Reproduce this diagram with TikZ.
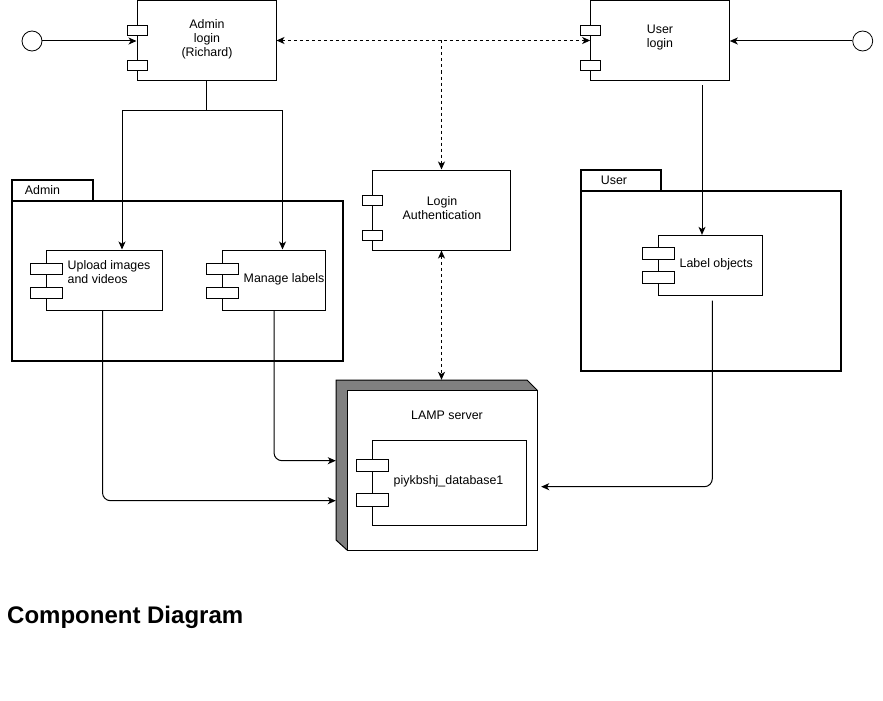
\documentclass[tikz,border=0pt]{standalone}
\usepackage{fontspec}
\setmainfont{Liberation Sans}
\usetikzlibrary{arrows.meta}
\definecolor{sidegray}{HTML}{808080}
\tikzset{
  comp/.style={draw, line width=1pt, fill=white, inner sep=0pt},
  port/.style={draw, line width=1pt, fill=white},
  pkg/.style={draw, line width=2pt},
  txt/.style={font=\fontsize{12.4}{14}\selectfont, align=center, inner sep=0pt},
  ltxt/.style={font=\fontsize{12.4}{14}\selectfont, align=left, inner sep=0pt, anchor=west},
  tip/.tip={Stealth[length=8pt,width=7pt,inset=2.2pt]},
  arr/.style={line width=1pt, -tip},
  dsh/.style={line width=1pt, dash pattern=on 3pt off 3pt},
  iface/.style={draw, circle, minimum size=20pt, inner sep=0pt, line width=0.8pt},
}
\begin{document}
\begin{tikzpicture}[x=1pt,y=-1pt]
\useasboundingbox (0,0) rectangle (883,701);

% ---------- packages ----------
\draw[pkg] (12.3,200.7) rectangle (343.3,360.7);
\draw[pkg] (12.3,200.7) -- (12.3,180) -- (92.7,180) -- (92.7,200.7);
\node[txt] (admintab) at (42.5,190) {Admin};

\draw[pkg] (580.7,190.7) rectangle (840.7,370.7);
\draw[pkg] (580.7,190.7) -- (580.7,170) -- (660.7,170) -- (660.7,190.7);
\node[txt] (usertab) at (614,180) {User};

% ---------- LAMP server node ----------
\draw[line width=1pt, fill=sidegray] (336,380) -- (527,380) -- (537,390) -- (537,550) -- (347,550) -- (336,540) -- cycle;
\draw[line width=1pt, fill=white] (347,390) rectangle (537,550);
\node[inner sep=0pt, minimum width=201pt, minimum height=170pt] (lamp) at (436.5,465) {};
\node[txt] (lamptxt) at (447,415) {LAMP server};

% ---------- components ----------
\node[comp, minimum width=139pt, minimum height=80pt] (adminlogin) at (206.5,40.5) {};
\draw[port] (127.3,25.5) rectangle (147.3,35.5);
\draw[port] (127.3,60.5) rectangle (147.3,70.5);
\node[txt] (adminlogintxt) at (207,39) {Admin\\login\\(Richard)};

\node[comp, minimum width=138.6pt, minimum height=80pt] (userlogin) at (660,40.5) {};
\draw[port] (580.7,25.5) rectangle (600.7,35.5);
\draw[port] (580.7,60.5) rectangle (600.7,70.5);
\node[txt] (userlogintxt) at (660,38) {User\\login};

\node[comp, minimum width=138.4pt, minimum height=80pt] (auth) at (441.5,210) {};
\draw[port] (362.3,195.5) rectangle (382.3,205.5);
\draw[port] (362.3,230.5) rectangle (382.3,240.5);
\node[txt] (authtxt) at (442,208) {Login\\Authentication};

\node[comp, minimum width=115.6pt, minimum height=60pt] (upload) at (104.5,280) {};
\draw[port] (30,263) rectangle (62.3,274);
\draw[port] (30,287) rectangle (62.3,298);
\node[ltxt] (uploadtxt) at (67.5,272) {Upload images\\and videos};

\node[comp, minimum width=103.4pt, minimum height=60pt] (manage) at (274,280) {};
\draw[port] (206,263) rectangle (238.3,274);
\draw[port] (206,287) rectangle (238.3,298);
\node[ltxt] (managetxt) at (243.5,279) {Manage labels};

\node[comp, minimum width=104.4pt, minimum height=59.7pt] (labelobj) at (710.5,265.2) {};
\draw[port] (642.3,247.3) rectangle (674.3,259.3);
\draw[port] (642.3,271.7) rectangle (674.3,283.3);
\node[ltxt] (labelobjtxt) at (679.5,264) {Label objects};

\node[comp, minimum width=154.4pt, minimum height=85pt] (db) at (449.5,482.5) {};
\draw[port] (356,459.3) rectangle (388.3,471);
\draw[port] (356,493.3) rectangle (388.3,506);
\node[ltxt] (dbtxt) at (393.5,481.5) {piykbshj\_database1};

% ---------- interfaces ----------
\node[iface] (lcirc) at (32,41) {};
\node[iface] (rcirc) at (862.7,41) {};
\draw[arr] (lcirc) -- (lcirc -| adminlogin.west);
\draw[arr] (rcirc) -- (rcirc -| userlogin.east);

% ---------- connectors ----------
\coordinate (split) at (206.5,110);
\draw[line width=1pt] (adminlogin.south) -- (split);
\draw[arr] (split) -| ([xshift=17.5pt]upload.north);
\draw[arr] (split) -| ([xshift=8.5pt]manage.north);

\draw[arr] ([xshift=42pt,yshift=-4pt]userlogin.south) -- ([xshift=-8.5pt]labelobj.north);

\draw[dsh, tip-tip] (adminlogin.east) -- (userlogin.west);
\coordinate (dtop) at (441.5,40.5);
\draw[dsh, -tip] (dtop) -- (auth.north);
\draw[dsh, tip-tip] (auth.south) -- (auth.south |- lamp.north);

\draw[arr, rounded corners=8pt] ([xshift=-2pt]upload.south) |- ([yshift=-35.7pt]lamp.west);
\draw[arr, rounded corners=8pt] (manage.south) |- ([yshift=4.3pt]lamp.west);
\draw[arr, rounded corners=8pt] ([xshift=1.8pt,yshift=-5pt]labelobj.south) |- ([xshift=4pt,yshift=-21.7pt]lamp.east);

% ---------- title ----------
\node[font=\bfseries\fontsize{24}{28}\selectfont, anchor=base west, inner sep=0pt] (title) at (7,623) {Component Diagram};
\end{tikzpicture}
\end{document}
